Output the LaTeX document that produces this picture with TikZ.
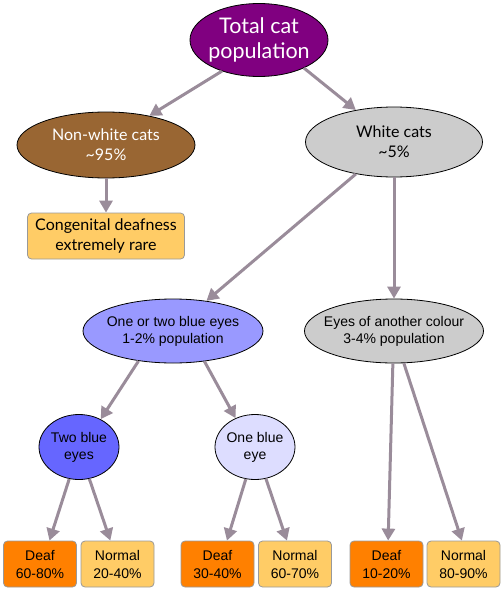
\documentclass[tikz,border=0pt]{standalone}
\usepackage{fontspec}
\setmainfont{Liberation Sans}
\newfontfamily\gillfont{Lato}
\usetikzlibrary{arrows.meta,shapes.geometric}
\definecolor{catpurple}{HTML}{800080}
\definecolor{catbrown}{HTML}{996633}
\definecolor{catgrey}{HTML}{CCCCCC}
\definecolor{catblue}{HTML}{9999FF}
\definecolor{catdeepblue}{HTML}{6666FF}
\definecolor{catpaleblue}{HTML}{DDDDFF}
\definecolor{catorange}{HTML}{FF8000}
\definecolor{catyellow}{HTML}{FFCC66}
\definecolor{catarrow}{HTML}{9A8C9A}
\tikzset{
  oval/.style={ellipse,draw=black,line width=0.8pt,inner sep=-8pt,align=center,font=\fontsize{14}{17}\selectfont},
  tile/.style={rectangle,rounded corners=4pt,draw=black!40,line width=0.8pt,align=center,
    minimum width=73pt,minimum height=46pt,inner sep=0pt,font=\fontsize{14}{18}\selectfont},
  link/.style={catarrow,line width=3pt,-{Triangle[length=12pt,width=13pt]},shorten >=0pt}
}
\begin{document}
\begin{tikzpicture}[x=1pt,y=-1pt]
\useasboundingbox (0,0) rectangle (503,589);
\node[oval,fill=catpurple,text=white,minimum width=138pt,minimum height=73pt,font=\gillfont\fontsize{21.5}{25}\selectfont] (total) at (259,40) {Total cat\\population};
\node[oval,fill=catbrown,text=white,minimum width=178pt,minimum height=66pt,font=\gillfont\fontsize{16}{20}\selectfont] (nonwhite) at (106,145) {Non-white cats\\\textasciitilde95\%};
\node[tile,fill=catyellow,minimum width=157pt,font=\gillfont\fontsize{16}{20}\selectfont] (rare) at (106,236) {Congenital deafness\\extremely rare};
\node[oval,fill=catgrey,minimum width=177pt,minimum height=70pt,font=\gillfont\fontsize{16}{20}\selectfont] (white) at (394,142) {White cats\\\textasciitilde5\%};
\node[oval,fill=catblue,minimum width=180pt,minimum height=64pt] (blue) at (173,331) {One or two blue eyes\\1-2\% population};
\node[oval,fill=catgrey,minimum width=179pt,minimum height=64pt] (other) at (394,331) {Eyes of another colour\\3-4\% population};
\node[oval,fill=catdeepblue,minimum width=80pt,minimum height=65pt] (twoblue) at (79,447) {Two blue\\eyes};
\node[oval,fill=catpaleblue,minimum width=80pt,minimum height=65pt] (oneblue) at (255,447) {One blue\\eye};
% outcome boxes
\node[tile,fill=catorange] (deafa) at (40,564) {Deaf\\60-80\%};
\node[tile,fill=catyellow] (norma) at (117.5,564) {Normal\\20-40\%};
\node[tile,fill=catorange] (deafb) at (217.5,564) {Deaf\\30-40\%};
\node[tile,fill=catyellow] (normb) at (295,564) {Normal\\60-70\%};
\node[tile,fill=catorange] (deafc) at (386.5,564) {Deaf\\10-20\%};
\node[tile,fill=catyellow] (normc) at (463.5,564) {Normal\\80-90\%};
% arrows
\draw[link] (total.220) -- (nonwhite.34);
\draw[link] (total.328) -- (white.140);
\draw[link] (nonwhite.south) -- (rare.north);
\draw[link] (white.220) -- (blue.42);
\draw[link] (white.south) -- (other.north);
\draw[link] (blue.221) -- (twoblue.52);
\draw[link] (blue.316) -- (oneblue.124);
\draw[link] (other.268) -- (deafc.86);
\draw[link] (other.287) -- (normc.94);
\draw[link] (twoblue.253) -- (deafa.68);
\draw[link] (twoblue.288) -- (norma.107);
\draw[link] (oneblue.254) -- (deafb.68);
\draw[link] (oneblue.289) -- (normb.109);
\end{tikzpicture}
\end{document}
